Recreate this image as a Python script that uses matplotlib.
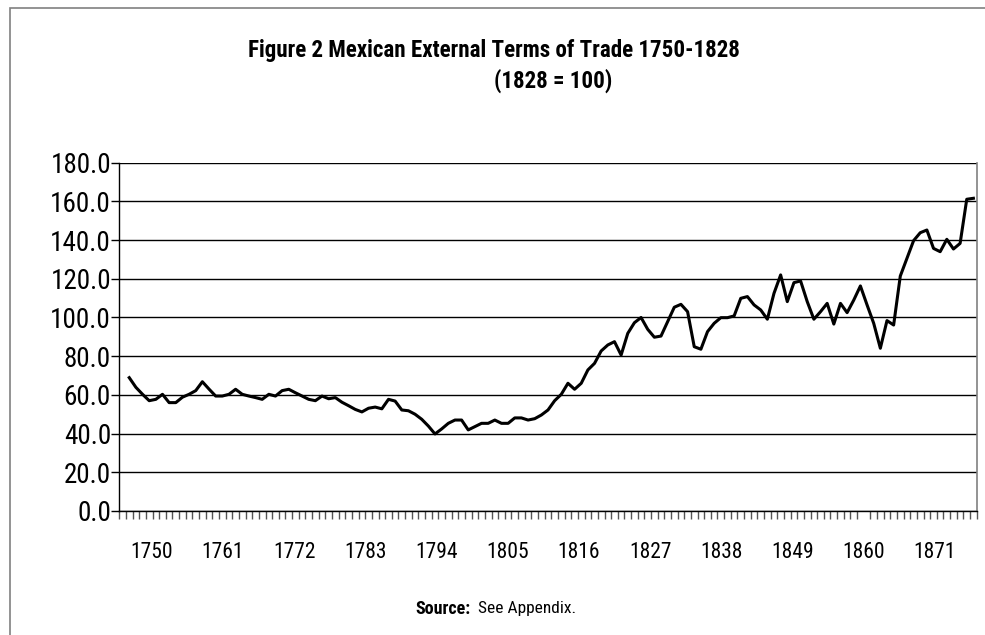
import matplotlib
matplotlib.use("Agg")
import matplotlib.pyplot as plt
import numpy as np
from matplotlib.patches import Rectangle
from matplotlib import font_manager

# Terms of trade index, 1828 = 100
first_year = 1751
tot_values = [
    68.9, 63.9, 60.3, 57.0, 57.7, 60.3, 56.0, 56.0, 58.8, 60.3,   # 1751-1760
    62.2, 66.8, 63.0, 59.4, 59.4, 60.3, 62.9, 60.3, 59.4, 58.6,   # 1761-1770
    57.7, 60.3, 59.4, 62.2, 62.9, 61.1, 59.4, 57.7, 57.0, 59.4,   # 1771-1780
    58.0, 58.6, 56.2, 54.4, 52.5, 51.2, 53.1, 53.7, 52.8, 57.7,   # 1781-1790
    56.8, 52.2, 51.8, 50.0, 47.4, 43.9, 39.8, 42.4, 45.3, 47.0,   # 1791-1800
    47.0, 41.9, 43.6, 45.3, 45.3, 47.0, 45.3, 45.3, 48.1, 48.1,   # 1801-1810
    47.0, 47.7, 49.6, 52.2, 57.0, 60.3, 66.0, 62.9, 66.0, 72.9,   # 1811-1820
    76.3, 82.7, 85.8, 87.5, 80.6, 91.8, 97.3, 100.0, 93.9, 89.8,  # 1821-1830
    90.4, 97.8, 105.3, 106.8, 103.0, 84.9, 83.6, 92.7, 97.0, 99.9,  # 1831-1840
    99.9, 100.8, 109.9, 110.8, 106.5, 103.9, 99.1, 112.5, 122.0, 108.2,  # 1841-1850
    118.0, 118.9, 108.2, 99.1, 103.0, 107.3, 96.6, 107.3, 102.5, 109.0,  # 1851-1860
    116.3, 106.5, 97.0, 84.1, 98.4, 96.1, 121.4, 130.6, 139.7, 143.8,  # 1861-1870
    145.2, 135.7, 134.0, 140.4, 135.4, 138.3, 161.1, 161.6,             # 1871-1878
]
years = np.arange(first_year, first_year + len(tot_values))

label_years = list(range(1750, 1872, 11))
y_ticks = np.arange(0, 181, 20)

# the original uses a condensed Arial look; take the first narrow face available
installed = {f.name for f in font_manager.fontManager.ttflist}
candidates = [('Liberation Sans Narrow', 1.0), ('Arial Narrow', 1.0),
              ('Roboto Condensed', 1.0), ('Archivo Narrow', 1.0),
              ('PT Sans Narrow', 1.0), ('Liberation Sans', 0.82)]
font_name, scale = next(((n, s) for n, s in candidates if n in installed),
                        ('DejaVu Sans', 0.78))
plt.rcParams['font.family'] = [font_name, 'DejaVu Sans']

fig = plt.figure(figsize=(9.85, 6.35), dpi=100)
ax = fig.add_axes([0.1211, 0.1953, 0.8705, 0.5485])

ax.plot(years, tot_values, color='black', lw=2.2)

ax.set_xlim(years[0] - 1.5, years[-1] + 0.5)
ax.set_ylim(0, 180)

# y axis
ax.set_yticks(y_ticks)
ax.set_yticklabels([f"{v:.1f}" for v in y_ticks], fontsize=19.5 * scale)
ax.tick_params(axis='y', direction='out', length=5.5, width=1, pad=0.5, color='black')
ax.yaxis.grid(True, color='black', lw=1)
ax.set_axisbelow(True)

# x axis: one small tick per year boundary, labels every 11 years
ax.set_xticks(np.arange(years[0] - 1.5, years[-1] + 1.0, 1.0), minor=True)
ax.tick_params(axis='x', which='minor', direction='out', length=5.5, width=1, color='#555555')
label_pos = 1754.4 + np.arange(len(label_years)) * 10.71
ax.set_xticks(label_pos)
ax.set_xticklabels([str(y) for y in label_years], fontsize=15.5 * scale)
ax.tick_params(axis='x', which='major', length=0, pad=22)

for side in ['left', 'bottom']:
    ax.spines[side].set_color('black')
    ax.spines[side].set_linewidth(1)
ax.spines['top'].set_visible(False)
ax.spines['right'].set_color('#808080')
ax.spines['right'].set_linewidth(1.2)

# titles
fig.text(494 / 985, 1 - 51 / 635, "Figure 2 Mexican External Terms of Trade 1750-1828",
         ha='center', va='center', fontsize=16.6 * scale, fontweight='bold')
fig.text(553 / 985, 1 - 81 / 635, "(1828 = 100)",
         ha='center', va='center', fontsize=16.6 * scale, fontweight='bold')

# source note
fig.text(470 / 985, 1 - 609 / 635, "Source:", ha='right', va='center',
         fontsize=13 * scale, fontweight='bold')
fig.text(478 / 985, 1 - 609 / 635, "See Appendix.", ha='left', va='center',
         fontsize=12.5 * scale)

# outer chart frame (only top and left edges visible in the crop)
fig.patches.append(Rectangle((10 / 985, -0.1), 1.2, 1.1 - 8 / 635,
                             transform=fig.transFigure, fill=False,
                             edgecolor='#808080', lw=1.2))

fig.savefig("out.png", dpi=100)
